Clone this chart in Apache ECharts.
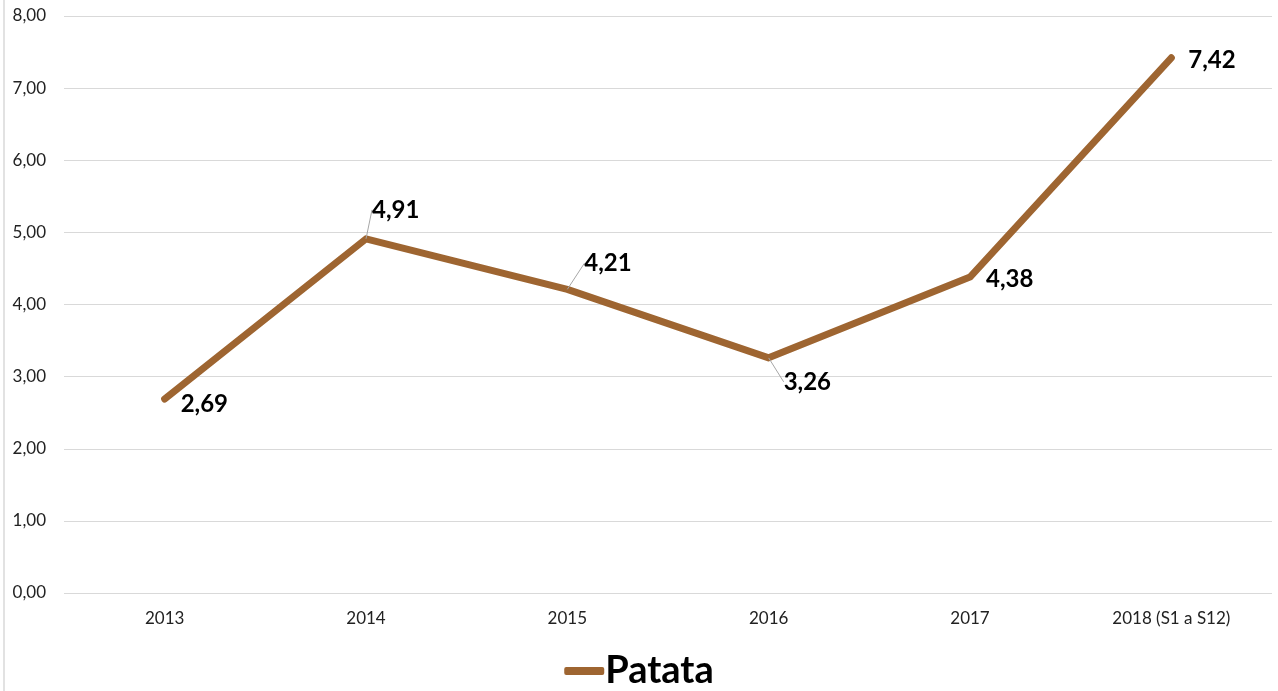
<!DOCTYPE html>
<html>
<head>
<meta charset="utf-8">
<script src="https://cdn.jsdelivr.net/npm/echarts@6/dist/echarts.min.js"></script>
<style>
html,body{margin:0;padding:0;background:#fff;}
#c{width:1278px;height:691px;}
</style>
</head>
<body>
<div id="c"></div>
<script>
var categories = ['2013', '2014', '2015', '2016', '2017', '2018 (S1 a S12)'];
var patata = [2.69, 4.91, 4.21, 3.26, 4.38, 7.42];
var seriesName = 'Patata';
var yTicks = [0, 1, 2, 3, 4, 5, 6, 7, 8];

var color = '#9E6531';
function fmt(v){ return v.toFixed(2).replace('.', ','); }

// label offsets relative to the point (style only)
var labelOffsets = [[16, 5], [6, -29], [17, -26], [15, 24], [16, 2], [17, 2]];
var labelLines = [false, true, true, true, false, false];

var chart = echarts.init(document.getElementById('c'));
chart.setOption({
  animation: false,
  grid: {left: 64, right: 6, top: 16, bottom: 98},
  legend: {
    bottom: -4, left: 'center',
    data: [{name: seriesName, icon: 'roundRect'}],
    itemWidth: 40, itemHeight: 8, itemGap: 0,
    textStyle: {fontSize: 38, fontWeight: 'bold', color: '#000', fontFamily: 'Lato', padding: [0, 0, 0, -4]}
  },
  xAxis: {
    type: 'category', data: categories, boundaryGap: true,
    axisLine: {show: false}, axisTick: {show: false},
    axisLabel: {fontSize: 17, color: '#222', margin: 17, fontFamily: 'Lato'}
  },
  yAxis: {
    type: 'value', min: 0, max: 8, interval: 1,
    axisLine: {show: false}, axisTick: {show: false},
    splitLine: {lineStyle: {color: '#d9d9d9', width: 1}},
    axisLabel: {fontSize: 17, color: '#222', margin: 18, fontFamily: 'Lato',
      formatter: function(v){ return fmt(v); }, align: 'right'}
  },
  series: [{
    name: seriesName, type: 'line',
    data: patata.map(function(v, i){ return {value: v, labelLine: {show: labelLines[i]}}; }),
    symbol: 'circle', symbolSize: 0.1, showSymbol: true,
    lineStyle: {color: color, width: 7, cap: 'round', join: 'round'},
    itemStyle: {color: color},
    label: {
      show: true, position: 'inside',
      formatter: function(p){ return fmt(p.value); },
      fontSize: 24, fontWeight: 'bold', color: '#000', fontFamily: 'Lato',
      align: 'left', verticalAlign: 'middle'
    },
    labelLine: {lineStyle: {color: '#a6a6a6', width: 1}},
    labelLayout: function(p){
      var o = labelOffsets[p.dataIndex];
      return {dx: o[0], dy: o[1]};
    }
  }],
  graphic: [{
    type: 'line', shape: {x1: 4, y1: 0, x2: 4, y2: 691},
    style: {stroke: '#d9d9d9', lineWidth: 1.5}
  }]
});
</script>
</body>
</html>
